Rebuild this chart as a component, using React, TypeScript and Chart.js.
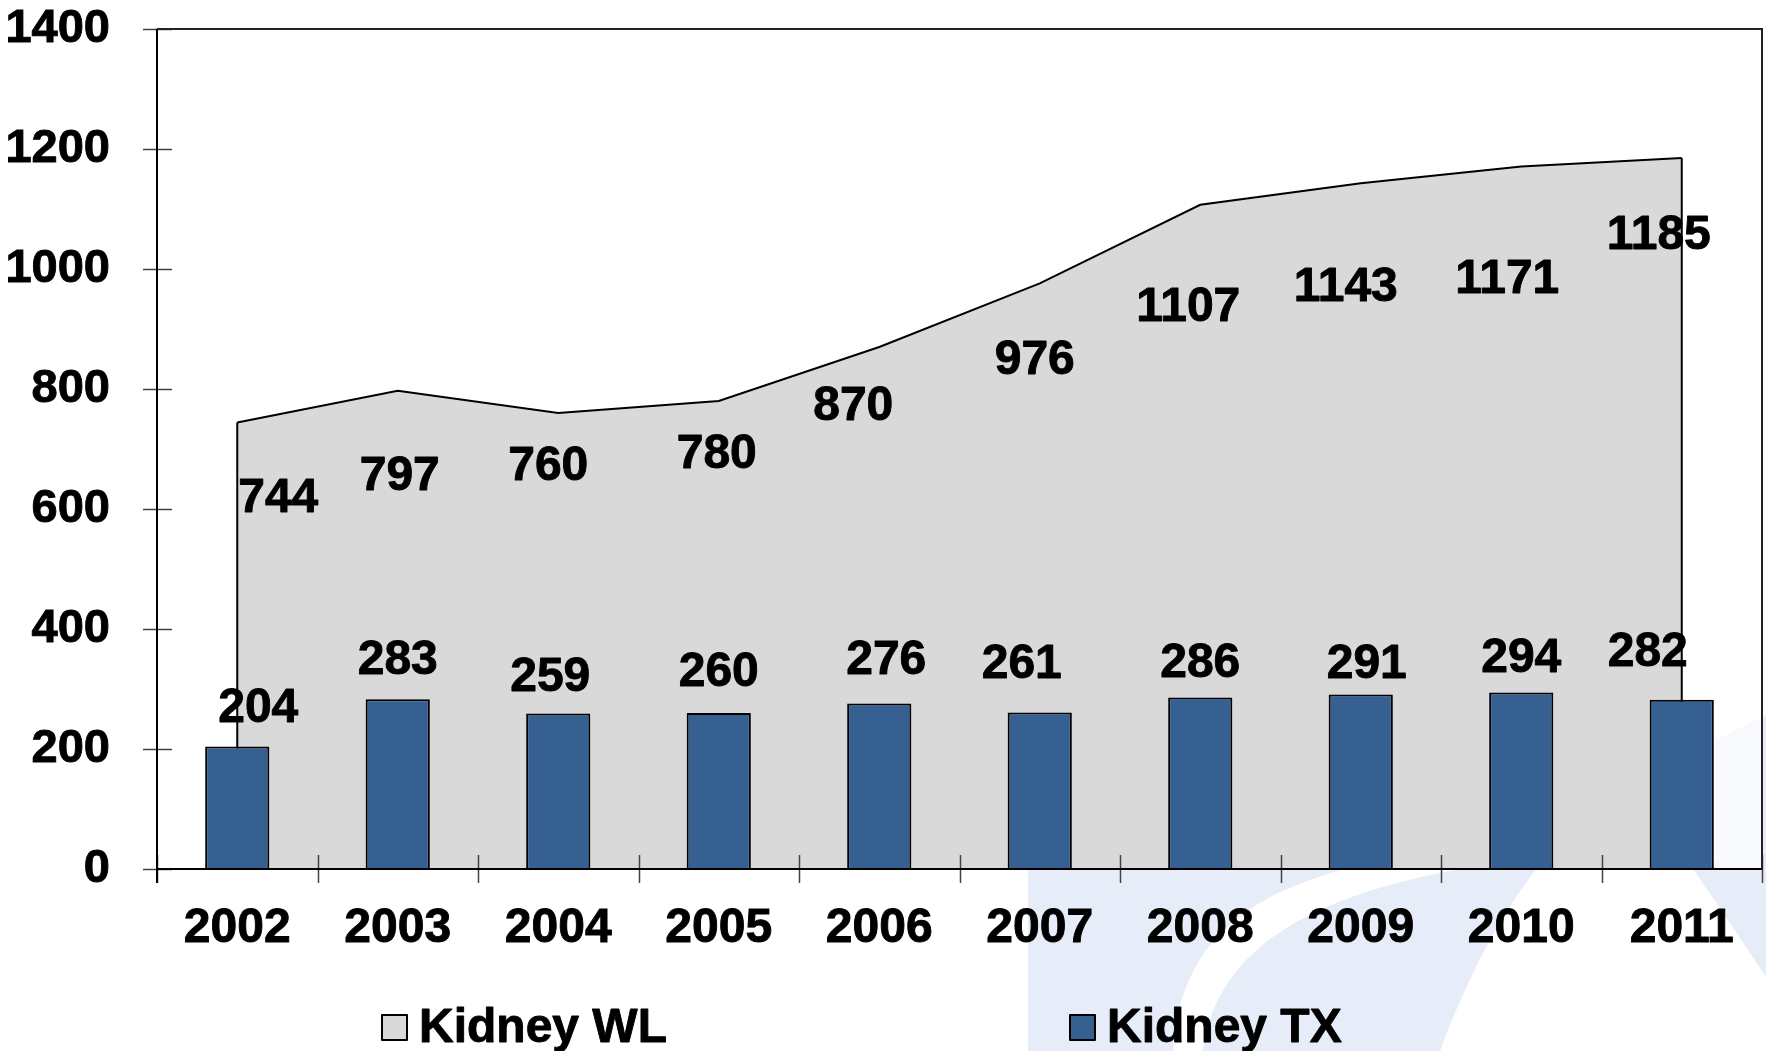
import React, { useEffect, useRef } from "react";
import { Chart, registerables } from "chart.js";

Chart.register(...registerables);

// ---- data ----
const categories = ["2002", "2003", "2004", "2005", "2006", "2007", "2008", "2009", "2010", "2011"];
const kidneyWL = [744, 797, 760, 780, 870, 976, 1107, 1143, 1171, 1185];
const kidneyTX = [204, 283, 259, 260, 276, 261, 286, 291, 294, 282];
const yTickValues = [0, 200, 400, 600, 800, 1000, 1200, 1400];
const seriesNames = ["Kidney WL", "Kidney TX"];

// ---- label nudges (px, relative to the point / bar top) ----
const wlLabelDx = [41, 2, -10, -2, -26, -5, -12, -15, -14, -23];
const wlLabelDy = [72, 82, 50, 50, 56, 73, 99, 101, 109, 74];
const txLabelDx = [21, 0, -8, 0, 7, -18, 0, 6, 0, -34];
const txLabelDy = [-42, -42, -40, -44, -47, -52, -38, -34, -38, -51];

// ---- styles ----
const FONT_FAMILY = '"Liberation Sans", Arial, Helvetica, sans-serif';
const WL_FILL = "#D9D9D9";
const TX_FILL = "#366092";
const WATERMARK = "#E7EDF8";
const LEGEND_X = [382, 1070];
const LEGEND_Y = 1015;
const LEGEND_BOX = 25;
const LABEL_SIZE = 48;
const STROKE_W = 0.9;

const W = 1766;
const H = 1051;

const framePlugin = {
  id: "frame",
  beforeDraw(chart: any) {
    const { ctx, chartArea } = chart;
    ctx.save();
    ctx.fillStyle = "#ffffff";
    ctx.fillRect(0, 0, chart.width, chart.height);
    // decorative watermark swooshes
    ctx.fillStyle = WATERMARK;
    ctx.beginPath();
    ctx.moveTo(1028, 1051);
    ctx.lineTo(1028, 869);
    ctx.lineTo(1345, 869);
    ctx.bezierCurveTo(1250, 895, 1180, 940, 1173, 1051);
    ctx.closePath();
    ctx.fill();
    ctx.beginPath();
    ctx.moveTo(1203, 1051);
    ctx.bezierCurveTo(1215, 960, 1290, 900, 1460, 869);
    ctx.lineTo(1536, 869);
    ctx.bezierCurveTo(1510, 905, 1480, 947, 1440, 1051);
    ctx.closePath();
    ctx.fill();
    ctx.beginPath();
    ctx.moveTo(1716, 740);
    ctx.lineTo(1766, 715);
    ctx.lineTo(1766, 977);
    ctx.quadraticCurveTo(1725, 915, 1693, 869);
    ctx.lineTo(1716, 860);
    ctx.closePath();
    ctx.fill();
    // plot area veil
    ctx.fillStyle = "rgba(255,255,255,0.65)";
    ctx.fillRect(chartArea.left, chartArea.top, chartArea.right - chartArea.left, chartArea.bottom - chartArea.top);
    ctx.restore();
  },
  afterDatasetDraw(chart: any, args: any) {
    if (args.index !== 0) return;
    const { ctx } = chart;
    const meta = chart.getDatasetMeta(0);
    const pts = meta.data;
    if (!pts.length) return;
    const y0 = chart.scales.y.getPixelForValue(0);
    const first = pts[0];
    const last = pts[pts.length - 1];
    ctx.save();
    ctx.strokeStyle = "#000";
    ctx.lineWidth = 2;
    ctx.beginPath();
    ctx.moveTo(first.x, first.y);
    ctx.lineTo(first.x, y0);
    ctx.moveTo(last.x, last.y);
    ctx.lineTo(last.x, y0);
    ctx.stroke();
    ctx.restore();
  },
  afterDatasetsDraw(chart: any) {
    const { ctx, chartArea } = chart;
    const { left, right, top, bottom } = chartArea;
    const xs = chart.scales.x;
    const ys = chart.scales.y;
    ctx.save();
    // ticks
    ctx.strokeStyle = "#444";
    ctx.lineWidth = 1.5;
    ctx.beginPath();
    yTickValues.forEach((v) => {
      const py = Math.round(ys.getPixelForValue(v)) + 0.5;
      ctx.moveTo(left - 14, py);
      ctx.lineTo(left + 15, py);
    });
    const half = (xs.getPixelForValue(1) - xs.getPixelForValue(0)) / 2;
    for (let i = 0; i <= categories.length; i++) {
      const px = Math.round(xs.getPixelForValue(0) - half + 2 * half * i) + 0.5;
      ctx.moveTo(px, bottom - 14);
      ctx.lineTo(px, bottom + 14);
    }
    ctx.stroke();
    // plot border top / right
    ctx.strokeStyle = "#222";
    ctx.lineWidth = 2;
    ctx.beginPath();
    ctx.moveTo(left, top);
    ctx.lineTo(right, top);
    ctx.lineTo(right, bottom);
    ctx.stroke();
    // axes
    ctx.strokeStyle = "#000";
    ctx.lineWidth = 2;
    ctx.beginPath();
    ctx.moveTo(left, top);
    ctx.lineTo(left, bottom + 14);
    ctx.moveTo(left, bottom);
    ctx.lineTo(right, bottom);
    ctx.stroke();
    ctx.restore();
  },
  afterDraw(chart: any) {
    const { ctx } = chart;
    const fs = LABEL_SIZE;
    ctx.save();
    ctx.font = `bold ${fs}px ${FONT_FAMILY}`;
    ctx.fillStyle = "#000";
    ctx.strokeStyle = "#000";
    ctx.lineWidth = STROKE_W;
    ctx.lineJoin = "round";
    ctx.textAlign = "center";
    ctx.textBaseline = "alphabetic";
    const put = (t: string, x: number, y: number) => {
      ctx.strokeText(t, x, y);
      ctx.fillText(t, x, y);
    };
    const wlMeta = chart.getDatasetMeta(0);
    wlMeta.data.forEach((pt: any, i: number) => {
      put(String(kidneyWL[i]), pt.x + wlLabelDx[i], pt.y + wlLabelDy[i] + fs * 0.358);
    });
    const txMeta = chart.getDatasetMeta(1);
    txMeta.data.forEach((bar: any, i: number) => {
      put(String(kidneyTX[i]), bar.x + txLabelDx[i], bar.y + txLabelDy[i] + fs * 0.358);
    });
    // legend
    const fills = [WL_FILL, TX_FILL];
    ctx.font = `bold 48px ${FONT_FAMILY}`;
    ctx.textAlign = "left";
    seriesNames.forEach((name, i) => {
      const bx = LEGEND_X[i];
      ctx.fillStyle = fills[i];
      ctx.fillRect(bx, LEGEND_Y, LEGEND_BOX, LEGEND_BOX);
      ctx.strokeStyle = "#000";
      ctx.lineWidth = 2;
      ctx.strokeRect(bx, LEGEND_Y, LEGEND_BOX, LEGEND_BOX);
      ctx.fillStyle = "#000";
      ctx.lineWidth = STROKE_W;
      put(name, bx + LEGEND_BOX + 12, LEGEND_Y + 27);
    });
    ctx.restore();
  },
};

export default function App() {
  const ref = useRef<HTMLCanvasElement | null>(null);
  useEffect(() => {
    if (!ref.current) return;
    const chart = new Chart(ref.current, {
      type: "bar",
      data: {
        labels: categories,
        datasets: [
          {
            type: "line",
            label: seriesNames[0],
            data: kidneyWL,
            order: 1,
            fill: "origin",
            backgroundColor: WL_FILL,
            borderColor: "#000",
            borderWidth: 2,
            pointRadius: 0,
            tension: 0,
          } as any,
          {
            type: "bar",
            label: seriesNames[1],
            data: kidneyTX,
            order: 0,
            backgroundColor: TX_FILL,
            borderColor: "#000",
            borderWidth: 2,
            barPercentage: 0.4,
            categoryPercentage: 1,
          } as any,
        ],
      },
      options: {
        responsive: false,
        animation: false,
        layout: { padding: { top: 29, right: 4, left: 0, bottom: 0 } },
        plugins: {
          legend: { display: false },
          tooltip: { enabled: false },
        },
        scales: {
          x: {
            offset: true,
            grid: { display: false, drawTicks: false },
            border: { display: false },
            ticks: {
              color: "#000",
              font: { family: FONT_FAMILY, size: 48, weight: "bold" },
              textStrokeColor: "#000",
              textStrokeWidth: STROKE_W,
              padding: 31,
              maxRotation: 0,
              autoSkip: false,
            },
            afterFit(scale: any) {
              scale.height = 182;
              scale.paddingLeft = 0;
              scale.paddingRight = 0;
            },
          },
          y: {
            min: 0,
            max: 1400,
            grid: { display: false, drawTicks: false },
            border: { display: false },
            ticks: {
              stepSize: 200,
              color: "#000",
              font: { family: FONT_FAMILY, size: 47, weight: "bold" },
              textStrokeColor: "#000",
              textStrokeWidth: STROKE_W,
              padding: 47,
              callback: (v: any) => String(v),
            },
            afterBuildTicks(scale: any) {
              scale.ticks = yTickValues.map((v) => ({ value: v }));
            },
            afterFit(scale: any) {
              scale.width = 157;
              scale.paddingTop = 0;
              scale.paddingBottom = 0;
            },
          },
        },
      } as any,
      plugins: [framePlugin],
    });
    return () => chart.destroy();
  }, []);
  return (
    <div style={{ position: "fixed", left: 0, top: 0, width: W, height: H }}>
      <canvas ref={ref} width={W} height={H} style={{ display: "block" }} />
    </div>
  );
}
